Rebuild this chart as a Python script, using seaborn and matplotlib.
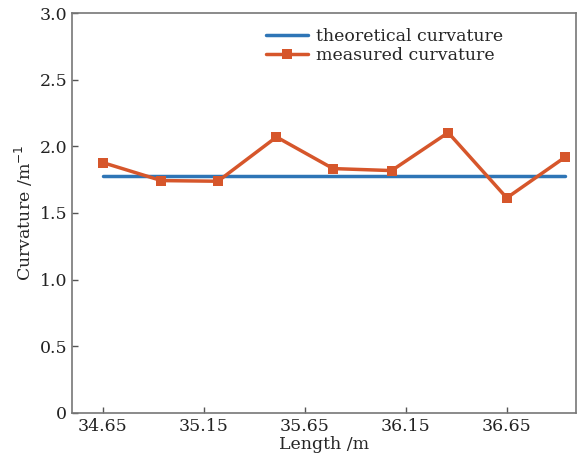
import matplotlib
matplotlib.use("Agg")
import matplotlib.pyplot as plt
import seaborn as sns
import pandas as pd

# data
length = [34.65, 34.94, 35.22, 35.51, 35.79, 36.08, 36.36, 36.65, 36.94]
measured = [1.878, 1.743, 1.738, 2.07, 1.833, 1.818, 2.103, 1.613, 1.92]
theory = [1.78] * len(length)
xticks = [34.65, 35.15, 35.65, 36.15, 36.65]
yticks = [0, 0.5, 1.0, 1.5, 2.0, 2.5, 3.0]
ylabels = ["0", "0.5", "1.0", "1.5", "2.0", "2.5", "3.0"]

sns.set_style("ticks")
plt.rcParams["font.family"] = ["DejaVu Serif"]

df = pd.DataFrame({"x": length, "meas": measured, "theo": theory})

fig = plt.figure(figsize=(5.86, 4.66), dpi=100)
ax = fig.add_axes([0.123, 0.114, 0.860, 0.858])

sns.lineplot(data=df, x="x", y="theo", ax=ax, color="#2E75B6", lw=2.5,
             label="theoretical curvature")
sns.lineplot(data=df, x="x", y="meas", ax=ax, color="#D6562B", lw=2.5,
             marker="s", markersize=7.5, markeredgewidth=0,
             label="measured curvature")

ax.set_xlim(34.498, 36.993)
ax.set_ylim(0, 3.0)
ax.set_xticks(xticks)
ax.set_xticklabels([f"{v:.2f}" for v in xticks])
ax.set_yticks(yticks)
ax.set_yticklabels(ylabels)
ax.tick_params(direction="in", length=4, width=1, colors="#555555",
               labelcolor="#222222", labelsize=12.5)
for s in ax.spines.values():
    s.set_color("#777777")
    s.set_linewidth(1.2)

ax.set_xlabel("Length /m", fontsize=12.5, labelpad=1)
ax.set_ylabel("Curvature /m$^{-1}$", fontsize=12.5, labelpad=3)

ax.legend(loc="upper right", bbox_to_anchor=(0.885, 1.0), frameon=False,
          fontsize=12.5, handlelength=2.4, handletextpad=0.5,
          labelspacing=0.15, borderpad=0.35)

fig.savefig("out.png", dpi=100)
